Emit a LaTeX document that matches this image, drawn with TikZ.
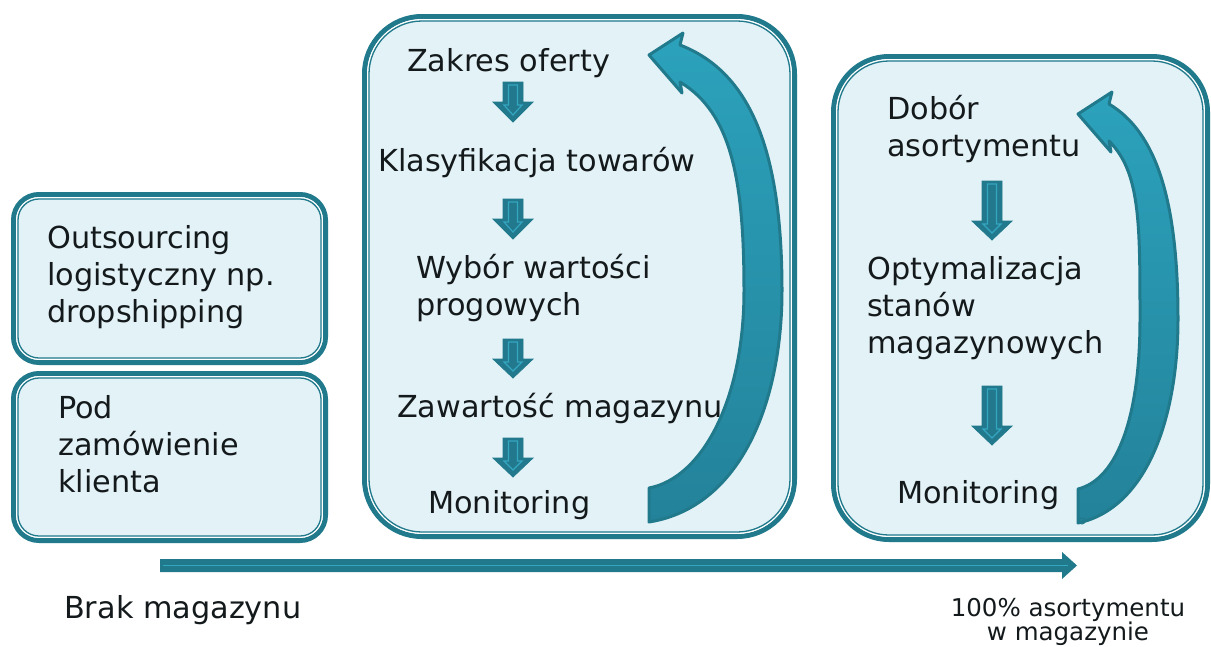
\documentclass[tikz,border=0pt]{standalone}
\usepackage{fontspec}
\setmainfont{DejaVu Sans}
\definecolor{boxedge}{HTML}{217A8C}
\definecolor{boxfill}{HTML}{E3F2F7}
\definecolor{arrowdark}{HTML}{22798D}
\definecolor{arrowlight}{HTML}{33A6C0}
\definecolor{curvetop}{HTML}{2CA2BC}
\definecolor{curvebottom}{HTML}{23829A}
\definecolor{textc}{HTML}{141A1C}

% rounded panel with thick outer rim, white gap and thin inner rule
\newcommand\panel[5]{%
  \pgfmathsetmacro\pra{#5-2.5}%
  \pgfmathsetmacro\prb{#5-5.7}%
  \pgfmathsetmacro\prc{#5-7.0}%
  \fill[boxfill, rounded corners=#5pt] (#1,#2) rectangle (#3,#4);
  \draw[boxedge, line width=5pt, rounded corners=\pra pt] (#1+2.5,#2+2.5) rectangle (#3-2.5,#4-2.5);
  \draw[white, line width=1.3pt, rounded corners=\prb pt] (#1+5.7,#2+5.7) rectangle (#3-5.7,#4-5.7);
  \draw[boxedge, line width=1.3pt, rounded corners=\prc pt] (#1+7.0,#2+7.0) rectangle (#3-7.0,#4-7.0);
}

% small block arrow pointing down: centre x, top, neck, tip
\newcommand\downblock[4]{%
  \filldraw[fill=arrowdark, draw=boxedge, line width=0.8pt, line join=miter]
    (#1-10,#2) -- (#1+10,#2) -- (#1+10,#3) -- (#1+20,#3) -- (#1,#4)
    -- (#1-20,#3) -- (#1-10,#3) -- cycle;
  \draw[arrowlight, line width=1.2pt]
    (#1-4.5,#2+3) -- (#1+4.5,#2+3) -- (#1+4.5,#3+3) -- (#1+9,#3+3) -- (#1,#4-7)
    -- (#1-9,#3+3) -- (#1-4.5,#3+3) -- cycle;
}

% curved return arrow: tail/tip x, head top y, tail bottom y, outer bulge x
\newcommand\loopback[4]{%
  \pgfmathsetmacro\cxo{#4}%
  \pgfmathsetmacro\cxi{#4-38}%
  \pgfmathsetmacro\cym{#2+0.527*(#3-#2)}%
  \pgfmathsetmacro\cyu{#2+0.25*(#3-#2)}%
  \pgfmathsetmacro\cyl{#2+0.75*(#3-#2)}%
  \pgfmathsetmacro\cyui{#2+0.30*(#3-#2)}%
  \pgfmathsetmacro\cxa{#1+0.78*(#4-#1)}%
  \pgfmathsetmacro\cxb{#1+0.70*(#4-#1)}%
  \pgfmathsetmacro\cxc{#1+0.40*(#4-#1)}%
  \pgfmathsetmacro\cxd{#1+0.62*(#4-#1)}%
  \path[top color=curvetop, bottom color=curvebottom, draw=boxedge,
        line width=3pt, line join=round]
    (#1+31,#2+12) .. controls (\cxa,#2+40) and (\cxo,\cyu) .. (\cxo,\cym)
    .. controls (\cxo,\cyl) and (\cxb,#3-15) .. (#1,#3)
    -- (#1,#3-34)
    .. controls (\cxc,#3-44) and (\cxi,\cyl) .. (\cxi,\cym)
    .. controls (\cxi,\cyui) and (\cxd,#2+80) .. (#1+31,#2+49)
    -- (#1+33,#2+60) -- (#1,#2+22) -- (#1+34,#2) -- cycle;
}

\tikzset{
  txt/.style={inner sep=0pt, font=\fontsize{30.3}{37}\selectfont, text=textc, align=left, anchor=base west},
  smalltxt/.style={inner sep=0pt, font=\fontsize{24.5}{24}\selectfont, text=textc, align=center, anchor=base}
}

\begin{document}
\begin{tikzpicture}[x=1pt, y=-1pt]
\useasboundingbox (0,0) rectangle (1211,646);

% panels
\panel{11}{192}{328}{365}{28}
\panel{11}{371}{328}{543}{28}
\panel{362}{14}{797}{539}{60}
\panel{831}{54}{1210}{542}{58}

% left column (multi-line nodes sit on the baseline of their last line)
\node[txt] (outs) at (47,322) {Outsourcing\\logistyczny np.\\dropshipping};
\node[txt] (pod) at (58,492) {Pod\\zamówienie\\klienta};

% middle panel: process steps
\node[txt] (zakres) at (407,71) {Zakres oferty};
\node[txt] (klas) at (378,171) {Klasyfikacja towarów};
\node[txt] (wybor) at (416,315) {Wybór wartości\\progowych};
\node[txt] (zaw) at (397,417) {Zawartość magazynu};
\node[txt] (mon1) at (428,513) {Monitoring};

\downblock{513}{82}{102}{122}
\downblock{513}{199}{219}{239}
\downblock{513}{339}{359}{378}
\downblock{513}{438}{458}{477}

\loopback{649}{33}{522}{782}

% right panel: process steps
\node[txt] (dobor) at (887,156) {Dobór\\asortymentu};
\node[txt] (opt) at (867,353) {Optymalizacja\\stanów\\magazynowych};
\node[txt] (mon2) at (897,503) {Monitoring};

\downblock{992}{181}{221}{240}
\downblock{992}{386}{426}{445}

\loopback{1078}{92}{523}{1178}
\draw[boxedge, line width=1pt] (1082,521) circle (3);

% scale arrow along the bottom
\coordinate (scalestart) at (160,565.5);
\coordinate (scaleend) at (1077,565.5);
\fill[boxedge] (160,559) -- (1062,559) -- (1062,552) -- (scaleend) -- (1062,579)
  -- (1062,572) -- (160,572) -- cycle;
\draw[arrowlight, line width=0.8pt] (scalestart) ++(3,0) -- (1068,565.5);

\node[txt] (brak) at (64,618) {Brak magazynu};
\node[smalltxt] (pelny) at (1068,640) {100\% asortymentu\\w magazynie};
\end{tikzpicture}
\end{document}
